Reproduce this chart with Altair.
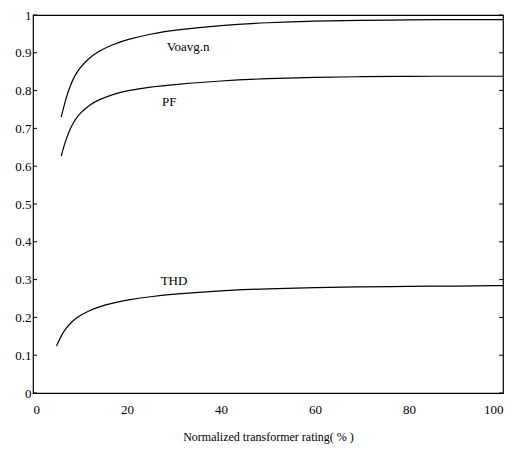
import altair as alt
import pandas as pd

# data
vo_x = [6, 7, 8, 9, 10, 12, 14, 17, 20, 25, 30, 40, 50, 60, 70, 80, 90, 100]
vo_y = [0.73, 0.78, 0.816, 0.842, 0.861, 0.887, 0.905, 0.922, 0.935, 0.95, 0.96, 0.973, 0.98, 0.984, 0.986, 0.987, 0.988, 0.988]

pf_x = [6, 7, 8, 9, 10, 12, 14, 17, 20, 25, 30, 40, 50, 60, 70, 80, 90, 100]
pf_y = [0.627, 0.671, 0.702, 0.724, 0.74, 0.762, 0.776, 0.79, 0.8, 0.81, 0.816, 0.826, 0.832, 0.835, 0.837, 0.838, 0.838, 0.838]

thd_x = [5, 6, 7, 8, 9, 10, 12, 14, 17, 20, 25, 30, 40, 50, 60, 70, 80, 90, 100]
thd_y = [0.124, 0.152, 0.171, 0.185, 0.196, 0.205, 0.218, 0.228, 0.238, 0.246, 0.255, 0.262, 0.271, 0.276, 0.279, 0.281, 0.282, 0.283, 0.284]

label_text = ["Voavg.n", "PF", "THD"]
label_x = [33, 29, 30]
label_y = [0.916, 0.77, 0.296]

y_ticks = [0, 0.1, 0.2, 0.3, 0.4, 0.5, 0.6, 0.7, 0.8, 0.9, 1]
x_ticks = [0, 20, 40, 60, 80, 100]

rows = []
for name, xs, ys in [("Voavg.n", vo_x, vo_y), ("PF", pf_x, pf_y), ("THD", thd_x, thd_y)]:
    for a, b in zip(xs, ys):
        rows.append({"series": name, "x": a, "y": b})
df = pd.DataFrame(rows)
lab = pd.DataFrame({"text": label_text, "x": label_x, "y": label_y})
ticks = pd.DataFrame({"y": y_ticks})

FONT = "Liberation Serif"
W, H = 470, 378

xs = alt.Scale(domain=[0, 100], nice=False)
ys = alt.Scale(domain=[0, 1], nice=False)

x_axis = alt.Axis(values=x_ticks, title="Normalized transformer rating( % )",
                  domain=False, grid=False, ticks=False, labelPadding=10,
                  titlePadding=15, labelFontSize=13, titleFontSize=12,
                  labelFont=FONT, titleFont=FONT, titleFontWeight="normal",
                  labelColor="black", titleColor="black", labelOverlap=False)
y_axis = alt.Axis(values=y_ticks, format=".1~f", title=None, domain=False,
                  grid=False, ticks=False, labelPadding=2, labelFontSize=13,
                  labelFont=FONT, labelColor="black", labelOverlap=False)

lines = alt.Chart(df).mark_line(color="black", strokeWidth=1.2, interpolate="basis").encode(
    x=alt.X("x:Q", scale=xs, axis=x_axis),
    y=alt.Y("y:Q", scale=ys, axis=y_axis),
    detail="series:N",
)

texts = alt.Chart(lab).mark_text(font=FONT, fontSize=13, color="black").encode(
    x=alt.X("x:Q", scale=xs, axis=x_axis), y=alt.Y("y:Q", scale=ys, axis=y_axis), text="text:N"
)

left_ticks = alt.Chart(ticks).mark_rule(color="black", strokeWidth=1).encode(
    x=alt.value(0), x2=alt.value(4), y=alt.Y("y:Q", scale=ys, axis=y_axis)
)
right_ticks = alt.Chart(ticks).mark_rule(color="black", strokeWidth=1).encode(
    x=alt.value(W - 4), x2=alt.value(W), y=alt.Y("y:Q", scale=ys, axis=y_axis)
)

chart = alt.layer(lines, texts, left_ticks, right_ticks).properties(
    width=W, height=H,
    background="white",
    autosize=alt.AutoSizeParams(type="none"),
    padding={"left": 25, "top": 7, "right": 8, "bottom": 52},
).configure_view(stroke="black", strokeWidth=1.2).configure_axis(
    labelOverlap=False
)

chart.save("out.html", embed_options={"renderer": "svg", "actions": False})
